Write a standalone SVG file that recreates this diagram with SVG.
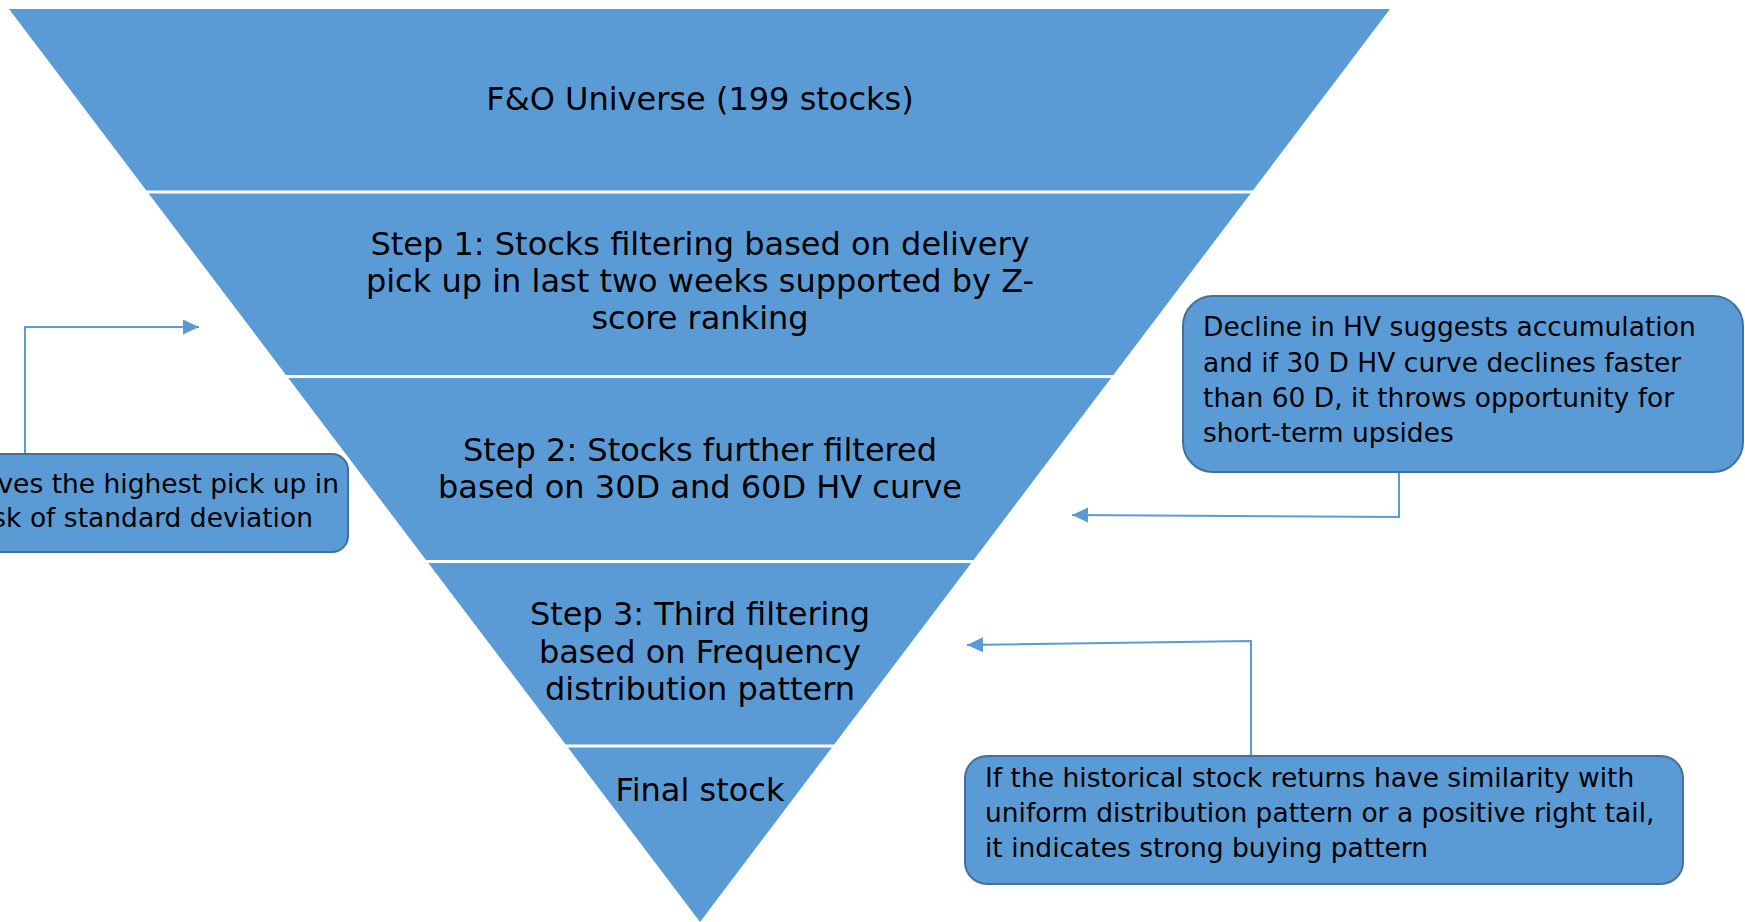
<svg xmlns="http://www.w3.org/2000/svg" width="1745" height="922" viewBox="0 0 1745 922">
<style>
.band{fill:#5B9BD5}
.div{stroke:#FFFFFF;stroke-width:3}
.main{font-family:"DejaVu Sans","Liberation Sans",sans-serif;font-size:32px;fill:#000;text-anchor:middle}
.box{fill:#5B9BD5;stroke:#41719C;stroke-width:2}
.bt{font-family:"DejaVu Sans","Liberation Sans",sans-serif;font-size:26.5px;fill:#000}
.conn{fill:none;stroke:#5B9BD5;stroke-width:2}
</style>
<defs>
<marker id="arr" markerUnits="userSpaceOnUse" markerWidth="18" markerHeight="18" refX="16" refY="7.5" orient="auto">
<path d="M0,0 L16,7.5 L0,15 Z" fill="#5B9BD5"/>
</marker>
</defs>
<rect width="1745" height="922" fill="#FFFFFF"/>
<g id="funnel">
<polygon class="band" points="9,9 1390,9 700,922"/>
<line class="div" x1="146" y1="192" x2="1253" y2="192"/>
<line class="div" x1="285" y1="376.5" x2="1114" y2="376.5"/>
<line class="div" x1="425" y1="561.5" x2="974" y2="561.5"/>
<line class="div" x1="565" y1="746" x2="835" y2="746"/>
</g>
<g id="level0"><text class="main" x="700" y="110">F&amp;O Universe (199 stocks)</text></g>
<g id="level1">
<text class="main" x="700" y="255">Step 1: Stocks filtering based on delivery</text>
<text class="main" x="700" y="292">pick up in last two weeks supported by Z-</text>
<text class="main" x="700" y="329">score ranking</text>
</g>
<g id="level2">
<text class="main" x="700" y="461">Step 2: Stocks further filtered</text>
<text class="main" x="700" y="498">based on 30D and 60D HV curve</text>
</g>
<g id="level3">
<text class="main" x="700" y="625">Step 3: Third filtering</text>
<text class="main" x="700" y="663">based on Frequency</text>
<text class="main" x="700" y="700">distribution pattern</text>
</g>
<g id="level4"><text class="main" x="700" y="801">Final stock</text></g>
<g id="connectors">
<polyline class="conn" points="25,454 25,327 199,327" marker-end="url(#arr)"/>
<polyline class="conn" points="1399,472 1399,517 1072,515" marker-end="url(#arr)"/>
<polyline class="conn" points="1251,756 1251,641 967,645" marker-end="url(#arr)"/>
</g>
<g id="note-left">
<rect class="box" x="-40" y="454" width="388" height="98" rx="16"/>
<text class="bt" x="339" y="493" text-anchor="end">ves the highest pick up in</text>
<text class="bt" x="313" y="527" text-anchor="end">sk of standard deviation</text>
</g>
<g id="note-hv">
<rect class="box" x="1183" y="296" width="560" height="176" rx="30"/>
<text class="bt" x="1203" y="336">Decline in HV suggests accumulation</text>
<text class="bt" x="1203" y="372">and if 30 D HV curve declines faster</text>
<text class="bt" x="1203" y="407">than 60 D, it throws opportunity for</text>
<text class="bt" x="1203" y="442">short-term upsides</text>
</g>
<g id="note-freq">
<rect class="box" x="965" y="756" width="718" height="128" rx="22"/>
<text class="bt" x="985" y="787">If the historical stock returns have similarity with</text>
<text class="bt" x="985" y="822">uniform distribution pattern or a positive right tail,</text>
<text class="bt" x="985" y="857">it indicates strong buying pattern</text>
</g>
</svg>
